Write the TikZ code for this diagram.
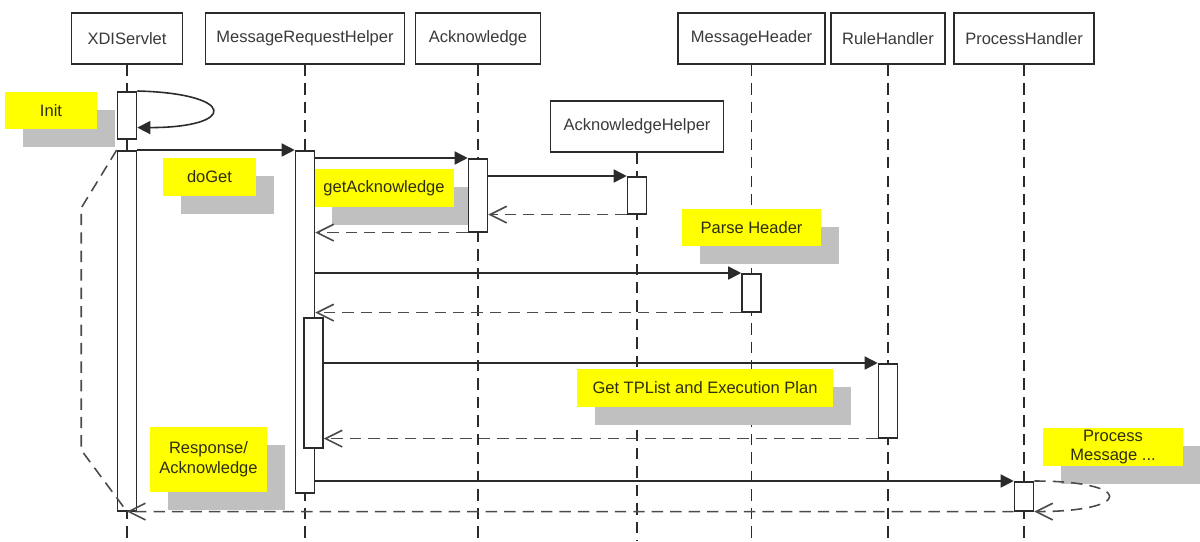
\documentclass[tikz,border=0pt]{standalone}
\usepackage{fontspec}
\setmainfont{Liberation Sans}
\usetikzlibrary{arrows.meta,positioning,shadows}
\definecolor{inkdark}{HTML}{2B2B2B}
\definecolor{headtext}{HTML}{3A3A3A}
\definecolor{noteyellow}{HTML}{FFFF00}
\definecolor{notegray}{HTML}{C0C0C0}
\definecolor{notetext}{HTML}{2E2E10}
\tikzset{
  head/.style={draw=inkdark, fill=white, minimum height=1.02cm, inner sep=0pt,
    font=\fontsize{9.4}{11.3}\selectfont, text=headtext, line width=0.9pt},
  lifeline/.style={draw=inkdark, line width=0.9pt, dash pattern=on 6.5pt off 4pt},
  act/.style={draw=inkdark, fill=white, minimum width=0.38cm, inner sep=0pt,
    line width=0.9pt, anchor=north},
  msg/.style={-{Triangle[length=7.4pt,width=7.4pt]}, line width=0.9pt, color=inkdark},
  ret/.style={-{Straight Barb[length=9.5pt,width=9.5pt]}, line width=0.9pt,
    color=inkdark!85, dash pattern=on 6.5pt off 4pt},
  retline/.style={line width=0.9pt, color=inkdark!85, dash pattern=on 6.5pt off 4pt},
  % yellow comment with a flat grey shadow
  note/.style={fill=noteyellow, inner sep=0pt, align=center, text=notetext,
    font=\fontsize{9.4}{11.3}\selectfont,
    drop shadow={shadow xshift=0.36cm, shadow yshift=-0.35cm, fill=notegray, opacity=1}},
}
\begin{document}
\begin{tikzpicture}[x=1cm,y=1cm]
  \useasboundingbox (0,0) rectangle (24,-10.82);
  \coordinate (bot) at (0,-10.82);
  % heads and their lifelines
  \foreach \n/\x/\y/\w/\l in {xdi/2.54/-0.77/2.22/XDIServlet,
      mrh/6.10/-0.77/3.98/MessageRequestHelper, ack/9.56/-0.77/2.50/Acknowledge,
      ah/12.74/-2.53/3.46/AcknowledgeHelper, mh/15.03/-0.77/2.94/MessageHeader,
      rh/17.76/-0.77/2.28/RuleHandler, ph/20.48/-0.77/2.80/ProcessHandler} {
    \node[head, minimum width=\w*1cm] (\n) at (\x,\y) {\l};
    \draw[lifeline] (\n.south) -- (\n.south |- bot);
  }
  % comments
  \node[note, minimum width=1.84cm, minimum height=0.74cm] (ninit) at (1.02,-2.21) {Init};
  \node[note, minimum width=1.86cm, minimum height=0.76cm] (nget) at (4.19,-3.54) {doGet};
  \node[note, minimum width=2.80cm, minimum height=0.76cm] (nack) at (7.68,-3.76) {getAcknowledge};
  \node[note, minimum width=2.78cm, minimum height=0.74cm] (nparse) at (15.03,-4.55) {Parse Header};
  \node[note, minimum width=5.12cm, minimum height=0.76cm] (nplan) at (14.10,-7.76) {Get TPList and Execution Plan};
  \node[note, minimum width=2.34cm, minimum height=1.30cm] (nresp) at (4.17,-9.19) {Response/\\Acknowledge};
  \node[note, minimum width=2.80cm, minimum height=0.76cm] (nproc) at (22.26,-8.94) {Process\\Message ...};
  % activations
  \foreach \n/\x/\t/\b in {xdi1/2.54/-1.82/-2.76, xdi2/2.54/-3.00/-10.20,
      mrh1/6.10/-3.00/-9.84, mrh2/6.27/-6.34/-8.94, ack1/9.56/-3.16/-4.62,
      ah1/12.74/-3.52/-4.26, mh1/15.03/-5.46/-6.22, rh1/17.76/-7.26/-8.74,
      ph1/20.48/-9.62/-10.20} {
    \node[act, minimum height={(\t-\b)*1cm}] (\n) at (\x,\t) {};
  }
  % calls
  \draw[msg] (xdi1.north east) .. controls +(2,-0.05) and +(2,0) .. ([yshift=0.24cm]xdi1.south east);
  \draw[msg] (xdi2.north east) -- (mrh1.north west);
  \draw[msg] (mrh1.east |- ack1.north) -- (ack1.north west);
  \draw[msg] (ack1.east |- ah1.north) -- (ah1.north west);
  \draw[msg] (mrh1.east |- mh1.north) -- (mh1.north west);
  \draw[msg] (mrh2.east |- rh1.north) -- (rh1.north west);
  \draw[msg] (mrh1.east |- ph1.north) -- (ph1.north west);
  % returns
  \draw[ret] (ah1.south west) -- (ack1.east |- ah1.south);
  \draw[ret] (ack1.south west) -- (mrh1.east |- ack1.south);
  \draw[ret] (mh1.south west) -- (mrh1.east |- mh1.south);
  \draw[ret] (rh1.south west) -- (mrh2.east |- rh1.south);
  \draw[ret] (ph1.north east) .. controls +(2,0) and +(2,0) .. (ph1.south east);
  \draw[ret] (ph1.south west) -- (xdi2.south);
  \draw[retline] (xdi2.north west) -- ++(-0.71,-1.16) -- ++(0,-4.84) -- (xdi2.south);
\end{tikzpicture}
\end{document}
